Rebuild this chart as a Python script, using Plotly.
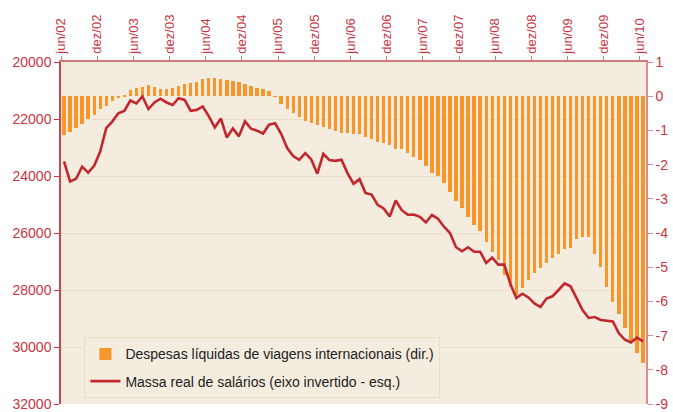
import plotly.graph_objects as go
import pandas as pd

# meses de jun/02 a jun/10 (categorias mensais)
meses = pd.date_range("2002-06-01", "2010-06-01", freq="MS")

rotulos = ["jun/02", "dez/02", "jun/03", "dez/03", "jun/04", "dez/04", "jun/05", "dez/05",
           "jun/06", "dez/06", "jun/07", "dez/07", "jun/08", "dez/08", "jun/09", "dez/09", "jun/10"]

# Despesas líquidas de viagens internacionais (eixo direito)
despesas = [-1.13, -1.04, -0.94, -0.82, -0.67, -0.55, -0.38, -0.28, -0.14, -0.06,
            0.02, 0.18, 0.23, 0.28, 0.32, 0.27, 0.21, 0.22, 0.24, 0.29,
            0.35, 0.39, 0.41, 0.49, 0.53, 0.52, 0.49, 0.47, 0.45, 0.41,
            0.36, 0.30, 0.23, 0.21, 0.16, -0.02, -0.23, -0.38, -0.50, -0.62,
            -0.72, -0.79, -0.85, -0.89, -0.97, -1.03, -1.07, -1.08, -1.10, -1.11,
            -1.18, -1.24, -1.35, -1.37, -1.44, -1.53, -1.54, -1.67, -1.77, -1.87,
            -2.03, -2.24, -2.32, -2.53, -2.80, -3.05, -3.26, -3.54, -3.78, -3.93,
            -4.25, -4.56, -4.80, -5.24, -5.57, -5.80, -5.62, -5.37, -5.18, -5.03,
            -4.87, -4.74, -4.62, -4.47, -4.43, -4.18, -4.13, -4.11, -4.60, -5.00,
            -5.59, -6.01, -6.37, -6.79, -7.18, -7.50, -7.81]

# Massa real de salários (eixo esquerdo, invertido)
massa = [23490, 24190, 24100, 23670, 23880, 23640, 23140, 22320, 22090, 21800,
         21720, 21350, 21450, 21210, 21650, 21420, 21290, 21420, 21510, 21270,
         21330, 21710, 21680, 21560, 21900, 22300, 21980, 22650, 22330, 22610,
         22080, 22340, 22410, 22510, 22200, 22150, 22520, 23020, 23300, 23430,
         23200, 23420, 23920, 23220, 23440, 23470, 23430, 23900, 24270, 24110,
         24600, 24650, 25010, 25140, 25420, 24860, 25200, 25360, 25350, 25430,
         25630, 25370, 25500, 25780, 26000, 26500, 26640, 26500, 26660, 26660,
         27050, 26860, 27110, 27110, 27780, 28280, 28130, 28260, 28470, 28600,
         28300, 28220, 28000, 27770, 27870, 28300, 28710, 28980, 28950, 29050,
         29070, 29100, 29520, 29740, 29840, 29670, 29800]

eixo_dir = [1, 0, -1, -2, -3, -4, -5, -6, -7, -8, -9]
eixo_esq = [20000, 22000, 24000, 26000, 28000, 30000, 32000]

x = [i + 0.5 for i in range(len(meses))]
vermelho = "#C9343F"
fonte = "Liberation Sans, Arial, sans-serif"

fig = go.Figure()
fig.add_trace(go.Bar(x=x, y=despesas, yaxis="y", width=0.55,
                     marker=dict(color="#F7962B", line_width=0),
                     name="Despesas líquidas de viagens internacionais (dir.)",
                     legendgroup="a"))
fig.add_trace(go.Scatter(x=x, y=massa, yaxis="y2", mode="lines",
                         line=dict(color="#C1272D", width=2.6),
                         name="Massa real de salários (eixo invertido - esq.)",
                         legendgroup="b"))

fig.update_layout(
    width=673, height=412,
    margin=dict(l=61, r=27, t=62, b=8),
    paper_bgcolor="white", plot_bgcolor="#F4ECDF",
    font=dict(family=fonte, size=13, color=vermelho),
    bargap=0,
    showlegend=True,
    legend=dict(x=0.04, y=0.195, xanchor="left", yanchor="top",
                bgcolor="#F4ECDF", bordercolor="#EADDBF", borderwidth=1,
                font=dict(size=14, color="#222222"), itemwidth=30,
                traceorder="grouped", tracegroupgap=6),
    xaxis=dict(range=[0, len(meses)], side="top", automargin=False,
               tickmode="array", tickvals=list(range(0, len(meses), 6)), ticktext=rotulos,
               tickangle=-90, ticks="outside", ticklen=4, tickcolor="#D07A7A",
               showline=True, linecolor="#D07A7A", linewidth=1.5,
               showgrid=False, zeroline=False, tickfont=dict(size=13, color=vermelho)),
    yaxis=dict(range=[-9, 1], side="right", automargin=False,
               tickmode="array", tickvals=eixo_dir, ticktext=[str(v) for v in eixo_dir],
               ticks="outside", ticklen=5, tickcolor="#D98C8C",
               showline=True, linecolor="#D98C8C", linewidth=1.5,
               showgrid=False, zeroline=False, tickfont=dict(size=14, color=vermelho)),
    yaxis2=dict(range=[32000, 20000], side="left", overlaying="y", automargin=False,
                tickmode="array", tickvals=eixo_esq, ticktext=[str(v) for v in eixo_esq],
                ticks="outside", ticklen=5, tickcolor=vermelho,
                showline=True, linecolor="#C8474B", linewidth=1.5,
                showgrid=True, gridcolor="#ECDFC6", gridwidth=1,
                zeroline=False, tickfont=dict(size=14, color=vermelho)),
)

# sem margem do body, para a figura ocupar a janela inteira
fig.write_html("out.html", config={"displayModeBar": False},
               post_script="document.body.style.margin='0';")
